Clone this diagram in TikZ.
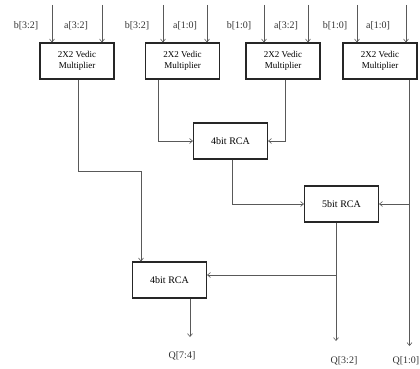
\documentclass[tikz,border=0pt]{standalone}
\usepackage{fontspec}
\setmainfont{Liberation Serif}
\usetikzlibrary{arrows.meta,calc}
\begin{document}
\begin{tikzpicture}[x=1pt,y=-1pt,
  blk/.style={draw=black!85,line width=1.1pt,minimum width=74pt,minimum height=36pt,inner sep=0pt,align=center,fill=white},
  mul/.style={blk,font=\fontsize{9}{11.5}\selectfont},
  rca/.style={blk,font=\fontsize{10}{11}\selectfont},
  wire/.style={draw=black!65,line width=0.6pt},
  arr/.style={wire,-{Straight Barb[length=3pt,width=5pt]}},
  lbl/.style={font=\fontsize{10}{11}\selectfont,text=black!80,inner sep=0pt}]
\useasboundingbox (0,0) rectangle (420,369);
% multipliers
\node[mul] (m1) at (77,61) {2X2 Vedic\\Multiplier};
\node[mul] (m2) at (182.5,61) {2X2 Vedic\\Multiplier};
\node[mul] (m3) at (283,61) {2X2 Vedic\\Multiplier};
\node[mul] (m4) at (380,61) {2X2 Vedic\\Multiplier};
% adders
\node[rca] (r1) at (230.5,141) {4bit RCA};
\node[rca] (r2) at (341.5,204) {5bit RCA};
\node[rca] (r3) at (169.5,280) {4bit RCA};
% input labels
\node[lbl] (l1) at (26,26) {b[3:2]};
\node[lbl] (l2) at (76,26) {a[3:2]};
\node[lbl] (l3) at (137,26) {b[3:2]};
\node[lbl] (l4) at (185,26) {a[1:0]};
\node[lbl] (l5) at (239,26) {b[1:0]};
\node[lbl] (l6) at (286,26) {a[3:2]};
\node[lbl] (l7) at (335,26) {b[1:0]};
\node[lbl] (l8) at (378,26) {a[1:0]};
% input arrows
\coordinate (i1) at (52,5);  \coordinate (i2) at (102,5);
\coordinate (i3) at (163,5); \coordinate (i4) at (207,5);
\coordinate (i5) at (264,5); \coordinate (i6) at (308,5);
\coordinate (i7) at (357,5); \coordinate (i8) at (406,5);
\draw[arr] (i1) -- (i1 |- m1.north);
\draw[arr] (i2) -- (i2 |- m1.north);
\draw[arr] (i3) -- (i3 |- m2.north);
\draw[arr] (i4) -- (i4 |- m2.north);
\draw[arr] (i5) -- (i5 |- m3.north);
\draw[arr] (i6) -- (i6 |- m3.north);
\draw[arr] (i7) -- (i7 |- m4.north);
\draw[arr] (i8) -- (i8 |- m4.north);
% internal connections
\coordinate (c1) at (141,171);
\draw[arr] ([xshift=1pt]m1.south) |- (c1) -- (c1 |- r3.north);
\draw[arr] ([xshift=-24.5pt]m2.south) |- (r1.west);
\draw[arr] ([xshift=2pt]m3.south) |- (r1.east);
\draw[arr] ([xshift=1.5pt]r1.south) |- (r2.west);
\coordinate (q10) at (409.5,346);
\coordinate (j1) at (409.5,204);
\draw[arr] ([xshift=29.5pt]m4.south) -- (q10);
\draw[arr] (j1) -- (r2.east);
\coordinate (q32) at (336,341);
\coordinate (j2) at (336,275);
\draw[arr] ([xshift=-5.5pt]r2.south) -- (q32);
\draw[arr] (j2) -- (j2 -| r3.east);
\coordinate (q74) at (190,337);
\draw[arr] ([xshift=20.5pt]r3.south) -- (q74);
% output labels
\node[lbl] (o1) at (182,356) {Q[7:4]};
\node[lbl] (o2) at (344,361) {Q[3:2]};
\node[lbl,anchor=east] (o3) at (419.5,361) {Q[1:0]};
\end{tikzpicture}
\end{document}
